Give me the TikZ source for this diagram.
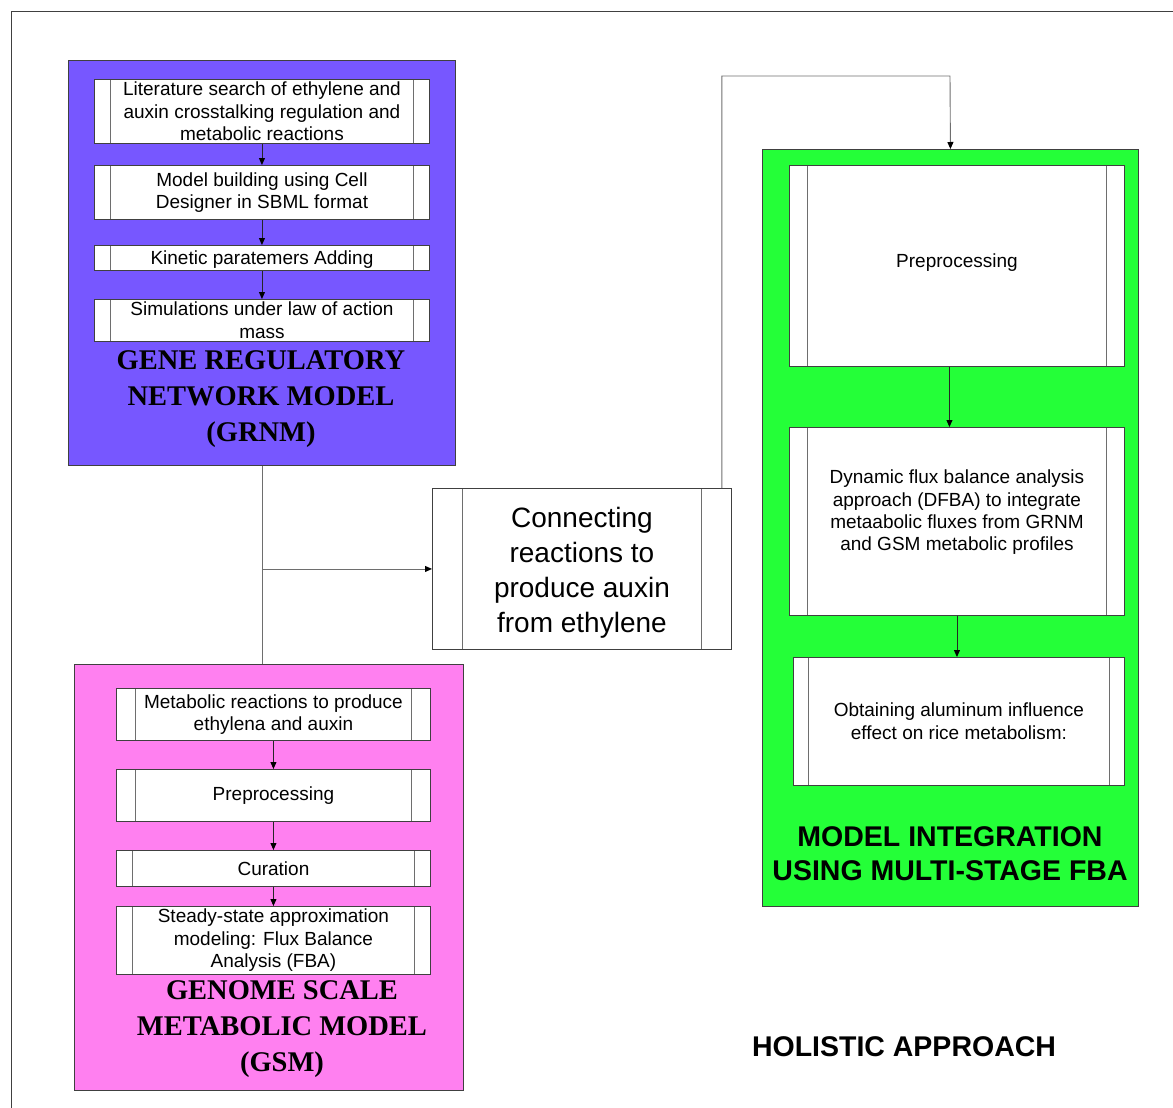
\documentclass[tikz,border=0pt]{standalone}
\usepackage{fontspec}
\setmainfont{Liberation Sans}
\newfontfamily\serifti{Liberation Serif}
\usetikzlibrary{arrows.meta,calc}
\definecolor{grnmblue}{RGB}{119,87,255}
\definecolor{gsmpink}{RGB}{255,128,240}
\definecolor{fbagreen}{RGB}{36,255,56}
\definecolor{edge}{RGB}{64,64,64}
\definecolor{wire}{RGB}{110,110,110}
\newcommand{\nudge}[2]{\raisebox{#1}[\height][\depth]{#2}}
\tikzset{
  panel/.style={draw=edge, line width=0.9pt, inner sep=0pt, anchor=north west},
  proc/.style={draw=edge, line width=0.9pt, fill=white, inner sep=0pt, anchor=north west,
    align=center, font=\fontsize{19}{22.5}\selectfont,
    path picture={
      \draw[wire, line width=0.9pt] ([xshift=#1]path picture bounding box.north west) -- ([xshift=#1]path picture bounding box.south west);
      \draw[wire, line width=0.9pt] ([xshift=-#1]path picture bounding box.north east) -- ([xshift=-#1]path picture bounding box.south east);
    }},
  proc/.default=17pt,
  arr/.style={draw=wire, line width=0.9pt, -{Triangle[length=7pt,width=6pt,fill=black,color=black]}},
  step arrow/.style={draw=black!85, line width=0.9pt, -{Triangle[length=7pt,width=6pt,fill=black,color=black]}},
  link/.style={draw=wire, line width=0.9pt},
  serftitle/.style={font=\serifti\bfseries\fontsize{28.5}{36}\selectfont, align=center},
  sanstitle/.style={font=\bfseries\fontsize{28.5}{34}\selectfont, align=center},
}
\begin{document}
\begin{tikzpicture}[x=1pt,y=-1pt]
\useasboundingbox (0,0) rectangle (1173,1108);
% open outer frame
\draw[edge, line width=0.9pt] (11,1108) -- (11,11) -- (1173,11);

% three coloured panels
\node[panel, fill=grnmblue, minimum width=387pt, minimum height=405pt] (grnm) at (68,60) {};
\node[panel, fill=gsmpink, minimum width=389pt, minimum height=426pt] (gsm) at (74,664) {};
\node[panel, fill=fbagreen, minimum width=376pt, minimum height=757pt] (fba) at (762,149) {};

% GRNM steps
\node[proc=16pt, minimum width=335pt, minimum height=64pt] (b1) at (94,79)
  {Literature search of ethylene and\\auxin crosstalking regulation and\\metabolic reactions};
\node[proc=16pt, minimum width=335pt, minimum height=54pt] (b2) at (94,165)
  {Model building using Cell\\Designer in SBML format};
\node[proc=16pt, minimum width=335pt, minimum height=25pt] (b3) at (94,245)
  {\nudge{-2pt}{Kinetic paratemers Adding}};
\node[proc=16pt, minimum width=335pt, minimum height=42pt] (b4) at (94,299)
  {Simulations under law of action\\mass};
\node[serftitle] (grnmt) at (261,399) {GENE REGULATORY\\NETWORK MODEL\\(GRNM)};

% GSM steps
\node[proc=19pt, minimum width=314pt, minimum height=52pt] (p1) at (116,688)
  {Metabolic reactions to produce\\ethylena and auxin};
\node[proc=19pt, minimum width=314pt, minimum height=52pt] (p2) at (116,769)
  {Preprocessing};
\node[proc=16pt, minimum width=314pt, minimum height=36pt] (p3) at (116,850)
  {Curation};
\node[proc=16pt, minimum width=314pt, minimum height=68pt] (p4) at (116,906)
  {Steady-state approximation\\modeling: Flux Balance\\Analysis (FBA)};
\node[serftitle] (gsmt) at (282,1029) {GENOME SCALE\\METABOLIC MODEL\\(GSM)};

% connecting step
\node[proc=30pt, minimum width=299pt, minimum height=161pt,
  font=\fontsize{28}{35}\selectfont] (conn) at (432,488)
  {\nudge{-4pt}{\parbox{230pt}{\centering Connecting\\reactions to\\produce auxin\\from ethylene}}};

% integration steps
\node[proc=18pt, minimum width=335pt, minimum height=201pt] (g1) at (789,165)
  {\nudge{3pt}{Preprocessing}};
\node[proc=18pt, minimum width=335pt, minimum height=188pt,
  font=\fontsize{19}{22.3}\selectfont] (g2) at (789,427)
  {\nudge{9pt}{\parbox{290pt}{\centering Dynamic flux balance analysis\\approach (DFBA) to integrate\\metaabolic fluxes from GRNM\\and GSM metabolic profiles}}};
\node[proc=15pt, minimum width=331pt, minimum height=128pt] (g3) at (793,657)
  {Obtaining aluminum influence\\effect on rice metabolism:};
\node[sanstitle] (fbat) at (950,854) {MODEL INTEGRATION\\USING MULTI-STAGE FBA};

\node[sanstitle] (holistic) at (904,1047) {HOLISTIC APPROACH};

% flow inside panels
\draw[step arrow] (b1.south) -- (b2.north);
\draw[step arrow] (b2.south) -- (b3.north);
\draw[step arrow] (b3.south) -- (b4.north);
\draw[step arrow] (p1.south) -- (p2.north);
\draw[step arrow] (p2.south) -- (p3.north);
\draw[step arrow] (p3.south) -- (p4.north);
\draw[step arrow] ([xshift=-7.5pt]g1.south) -- ([xshift=-7.5pt]g1.south |- g2.north);
\draw[step arrow] (g2.south) -- (g2.south |- g3.north);

% links between panels
\coordinate (j) at (grnm.south |- conn.west);
\draw[link] (grnm.south) -- (grnm.south |- gsm.north);
\draw[arr] (j) -- (conn.west);
\coordinate (top) at (950,76);
\draw[arr] ([xshift=-10pt]conn.north east) |- (top) -- (fba.north);
\end{tikzpicture}
\end{document}
